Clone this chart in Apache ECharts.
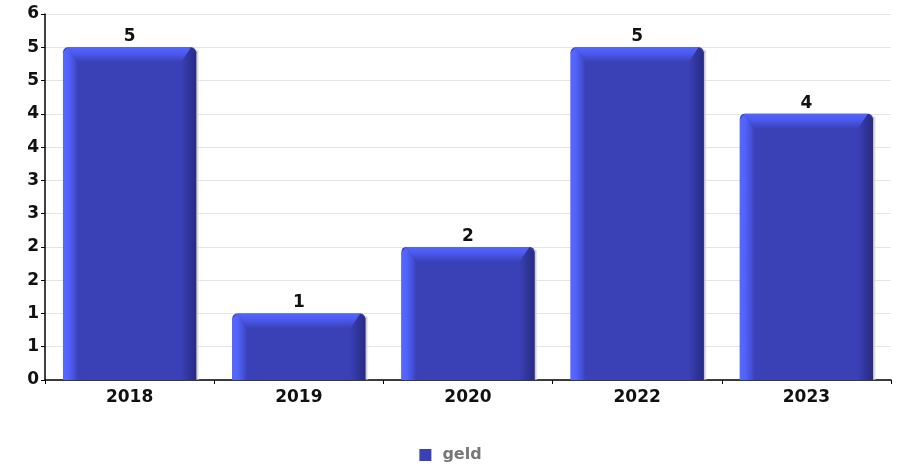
<!DOCTYPE html>
<html>
<head>
<meta charset="utf-8">
<script src="https://cdn.jsdelivr.net/npm/echarts@6/dist/echarts.min.js"></script>
<style>
html,body{margin:0;padding:0;background:#fff;}
#chart{width:901px;height:468px;}
</style>
</head>
<body>
<div id="chart"></div>
<script>
var categories = ['2018', '2019', '2020', '2022', '2023'];
var geld = [5, 1, 2, 5, 4];
var seriesName = 'geld';

var FONT = '"DejaVu Sans", sans-serif';
var chart = echarts.init(document.getElementById('chart'));

function renderBar(params, api) {
  var cx = api.coord([api.value(0), api.value(1)]);
  var base = api.coord([api.value(0), 0]);
  var band = api.size([1, 0])[0];
  var w = band * 0.787;
  var x0 = cx[0] - w / 2, x1 = cx[0] + w / 2;
  var top = cx[1], bot = base[1];
  var b = 15;
  var r = 5;
  var main = '#3a40b5';
  return {
    type: 'group',
    children: [
      { type: 'rect', shape: { x: x1, y: top + 3, width: 3, height: bot - top - 3 },
        style: { fill: new echarts.graphic.LinearGradient(0, 0, 1, 0, [{offset: 0, color: '#b0b0b0'}, {offset: 1, color: 'rgba(230,230,230,0.3)'}]) } },
      { type: 'rect', shape: { x: x0, y: top, width: w, height: bot - top, r: [r, r, 0, 0] },
        style: { fill: main } },
      { type: 'polygon', shape: { points: [[x0, top + r], [x0 + r, top], [x0 + b, top + b], [x0 + b, bot], [x0, bot]] },
        style: { fill: new echarts.graphic.LinearGradient(0, 0, 1, 0, [{offset: 0, color: '#5568ff'}, {offset: 0.35, color: '#5263fa'}, {offset: 0.75, color: '#4450d8'}, {offset: 1, color: main}]) } },
      { type: 'polygon', shape: { points: [[x0 + r, top], [x1 - r, top], [x1 - b, top + b], [x0 + b, top + b]] },
        style: { fill: new echarts.graphic.LinearGradient(0, 0, 0, 1, [{offset: 0, color: '#5266ff'}, {offset: 0.45, color: '#4a58ec'}, {offset: 1, color: main}]) } },
      { type: 'polygon', shape: { points: [[x1 - r, top], [x1, top + r], [x1, bot], [x1 - b, bot], [x1 - b, top + b]] },
        style: { fill: new echarts.graphic.LinearGradient(0, 0, 1, 0, [{offset: 0, color: main}, {offset: 0.5, color: '#30359a'}, {offset: 1, color: '#272b84'}]) } },
      { type: 'text', style: { text: String(api.value(1)), x: cx[0], y: top - 2, align: 'center', verticalAlign: 'bottom',
        font: 'bold 17px ' + FONT, fill: '#111' } }
    ]
  };
}

chart.setOption({
  animation: false,
  backgroundColor: '#ffffff',
  grid: { left: 45, right: 10, top: 14, bottom: 88, containLabel: false },
  legend: {
    bottom: 0, left: 'center',
    data: [{ name: seriesName, icon: 'rect' }],
    itemWidth: 12, itemHeight: 12, itemGap: 8,
    textStyle: { fontFamily: FONT, fontWeight: 'bold', fontSize: 16, color: '#777', padding: [0, 0, 0, 6] }
  },
  xAxis: {
    type: 'category',
    data: categories,
    axisLine: { lineStyle: { color: '#000', width: 1.5 } },
    axisTick: { show: true, length: 4, lineStyle: { color: '#000' } },
    axisLabel: { fontFamily: FONT, fontWeight: 'bold', fontSize: 17, color: '#111', margin: 9 },
    splitLine: { show: false }
  },
  yAxis: {
    type: 'value',
    min: 0, max: 5.5, interval: 0.5,
    axisLine: { show: true, lineStyle: { color: '#000', width: 1.5 } },
    axisTick: { show: true, length: 4, lineStyle: { color: '#000' } },
    axisLabel: { fontFamily: FONT, fontWeight: 'bold', fontSize: 17, color: '#111', margin: 6,
      formatter: function (v) { return String(Math.round(v)); } },
    splitLine: { show: true, lineStyle: { color: '#e4e4e4', width: 1 } }
  },
  series: [{
    name: seriesName,
    type: 'custom',
    renderItem: renderBar,
    itemStyle: { color: '#3a40b5' },
    encode: { x: 0, y: 1 },
    data: categories.map(function (c, i) { return [i, geld[i]]; }),
    z: 2
  }]
});
</script>
</body>
</html>
